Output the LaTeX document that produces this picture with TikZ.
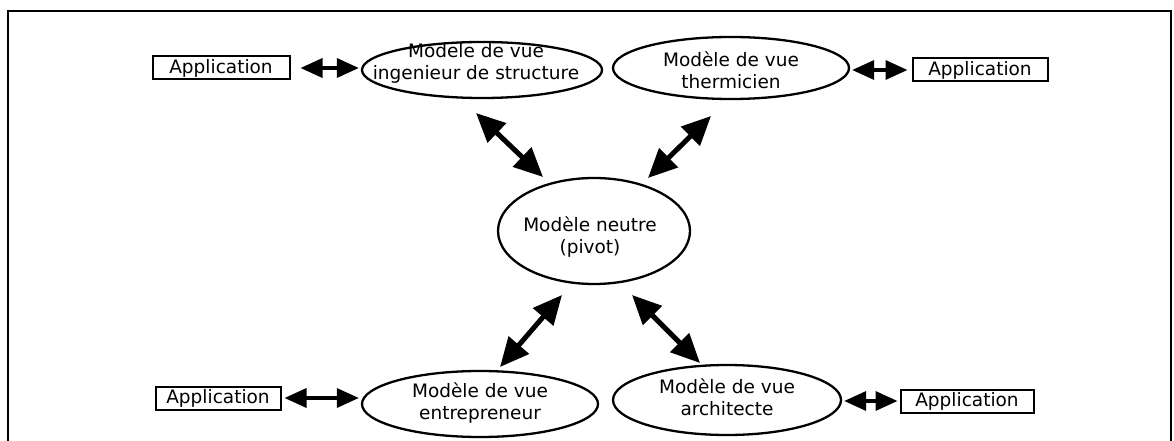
\documentclass[tikz,border=0pt]{standalone}
\usepackage{fontspec}
\setmainfont{DejaVu Sans}
\usetikzlibrary{shapes.geometric,arrows.meta}
\newcommand{\lblfont}{\fontsize{18.5pt}{22pt}\selectfont}
\tikzset{
  ell/.style={draw, ellipse, line width=2.3pt, inner sep=0pt},
  appbox/.style={draw, line width=2pt, inner sep=0pt, minimum height=23pt, font=\lblfont},
  txt/.style={align=center, inner sep=0pt, font=\lblfont},
  dbl/.style={line width=5pt, {Triangle[length=29pt,width=26pt]}-{Triangle[length=29pt,width=26pt]}},
  hdbl/.style={line width=3.5pt, {Triangle[length=22pt,width=19pt]}-{Triangle[length=22pt,width=19pt]}},
  frame/.style={line width=2.8pt}
}
\begin{document}
\begin{tikzpicture}[x=1pt,y=-1pt]
\useasboundingbox (0,0) rectangle (1174,441);
\draw[frame] (8,441) -- (8,11) -- (1171,11) -- (1171,441);

% ellipses
\node[ell, minimum width=240pt, minimum height=56pt] (tl) at (482,70) {};
\node[txt] (tlt) at (476,63) {Modele de vue\\ingenieur de structure};
\node[ell, minimum width=236pt, minimum height=62pt] (tr) at (731,68) {};
\node[txt] (trt) at (731,70) {Modèle de vue\\thermicien};
\node[ell, minimum width=192pt, minimum height=106pt] (c) at (594,231) {};
\node[txt] (ct) at (590,237) {Modèle neutre\\(pivot)};
\node[ell, minimum width=236pt, minimum height=66pt] (bl) at (480,404) {};
\node[txt] (blt) at (480,403) {Modèle de vue\\entrepreneur};
\node[ell, minimum width=228pt, minimum height=70pt] (br) at (727,400) {};
\node[txt] (brt) at (727,397) {Modèle de vue\\architecte};

% application boxes
\node[appbox, minimum width=137pt] (a1) at (221,68) {Application};
\node[appbox, minimum width=135pt] (a2) at (980,70) {Application};
\node[appbox, minimum width=125pt] (a3) at (218,398) {Application};
\node[appbox, minimum width=133pt] (a4) at (967,401) {Application};

% diagonal arrow ends
\coordinate (d1a) at (476,113);
\coordinate (d1b) at (543,177);
\coordinate (d2a) at (711,116);
\coordinate (d2b) at (648,178);
\coordinate (d3a) at (562,295);
\coordinate (d3b) at (500,367);
\coordinate (d4a) at (632,295);
\coordinate (d4b) at (700,363);

\draw[dbl] (d1a) -- (d1b);
\draw[dbl] (d2a) -- (d2b);
\draw[dbl] (d3a) -- (d3b);
\draw[dbl] (d4a) -- (d4b);

% horizontal arrows
\draw[hdbl, shorten <=10pt, shorten >=2pt] (a1.east) -- (a1.east -| tl.west);
\draw[hdbl, shorten <=2pt, shorten >=4pt] (a2.west -| tr.east) -- (a2.west);
\draw[hdbl, shorten <=3pt, shorten >=2pt] (a3.east) -- (a3.east -| bl.west);
\draw[hdbl, shorten <=2pt, shorten >=2pt] (a4.west -| br.east) -- (a4.west);
\end{tikzpicture}
\end{document}
